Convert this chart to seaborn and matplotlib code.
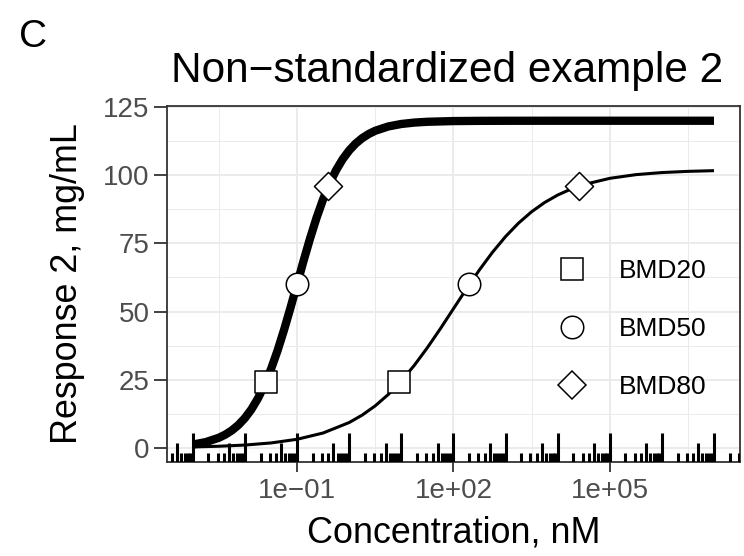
import numpy as np
import pandas as pd
import matplotlib
matplotlib.use("Agg")
import matplotlib.pyplot as plt
from matplotlib.lines import Line2D
from matplotlib.ticker import LogLocator, FixedLocator, NullFormatter
import seaborn as sns

sns.set_theme(style="white")
plt.rcParams['font.family'] = ['Liberation Sans', 'DejaVu Sans']

# ---- data (log10 concentration in nM, response in mg/mL) ----
thick_log_conc = [-3, -2.75, -2.5, -2.375, -2.25, -2.125, -2, -1.875, -1.75, -1.625,
                  -1.5, -1.375, -1.25, -1.125, -1, -0.875, -0.75, -0.625, -0.5, -0.375,
                  -0.25, -0.125, 0, 0.125, 0.25, 0.375, 0.5, 0.75, 1, 1.25, 1.5, 2,
                  2.5, 3, 4, 5, 6, 7]
thick_resp = [1.19, 2.10, 3.68, 4.86, 6.39, 8.37, 10.91, 14.12, 18.12, 23.00,
              28.83, 35.60, 43.20, 51.41, 60.00, 68.58, 76.81, 84.41, 91.17, 97.00,
              101.88, 105.88, 109.09, 111.63, 113.61, 115.14, 116.32, 117.90, 118.81, 119.33, 119.62, 119.88,
              119.96, 119.99, 120.0, 120.0, 120.0, 120.0]

thin_log_conc = [-3, -2.5, -2, -1.5, -1, -0.5, 0, 0.25, 0.5, 0.75, 1, 1.25, 1.5, 1.75,
                 2, 2.25, 2.5, 2.75, 3, 3.25, 3.5, 3.75, 4, 4.25, 4.5, 5, 5.5, 6, 6.5, 7]
thin_resp = [0.32, 0.57, 1.01, 1.78, 3.12, 5.43, 9.27, 12.00, 15.40, 19.55, 24.52, 30.26, 36.72, 43.70,
             51.00, 58.29, 65.29, 71.74, 77.49, 82.45, 86.60, 90.00, 92.73, 94.88, 96.57, 98.87, 100.22,
             100.99, 101.43, 101.68]

bmd_labels = ["BMD20", "BMD50", "BMD80"]
bmd_resp = [24, 60, 96]
thick_bmd_log_conc = [-1.60, -1.00, -0.40]
thin_bmd_log_conc = [0.96, 2.30, 4.41]

x_break_log = [-1, 2, 5]
x_break_labels = ["1e\u221201", "1e+02", "1e+05"]
x_minor_log = [-2.5, 0.5, 3.5, 6.5]
y_breaks = [0, 25, 50, 75, 100, 125]
y_minor = [12.5, 37.5, 62.5, 87.5, 112.5]

title = "Non\u2212standardized example 2"
panel_tag = "C"
x_title = "Concentration, nM"
y_title = "Response 2, mg/mL"

# ---- figure ----
fig = plt.figure(figsize=(7.44, 5.56), dpi=100)
ax = fig.add_axes([0.2241, 0.1696, 0.7706, 0.6397])

df_thick = pd.DataFrame({"conc": 10 ** np.array(thick_log_conc), "resp": thick_resp})
df_thin = pd.DataFrame({"conc": 10 ** np.array(thin_log_conc), "resp": thin_resp})

sns.lineplot(data=df_thick, x="conc", y="resp", ax=ax, color="black", linewidth=6.0,
             sort=False, legend=False, solid_capstyle="butt", zorder=3)
sns.lineplot(data=df_thin, x="conc", y="resp", ax=ax, color="black", linewidth=2.2,
             sort=False, legend=False, solid_capstyle="butt", zorder=3)

df_pts = pd.DataFrame({
    "conc": 10 ** np.array(thick_bmd_log_conc + thin_bmd_log_conc),
    "resp": bmd_resp + bmd_resp,
    "level": bmd_labels + bmd_labels,
})
marker_map = {"BMD20": "s", "BMD50": "o", "BMD80": "D"}
size_map = {"BMD20": 15.2, "BMD50": 16.2, "BMD80": 14.3}
for lev in bmd_labels:
    sub = df_pts[df_pts["level"] == lev]
    sns.scatterplot(data=sub, x="conc", y="resp", ax=ax, marker=marker_map[lev],
                    s=size_map[lev] ** 2, facecolor="white", edgecolor="black",
                    linewidth=1.1, legend=False, zorder=5)

ax.set_xscale("log")
xmin, xmax = 10 ** -3.5, 10 ** 7.5
ax.set_xlim(xmin, xmax)
ax.set_ylim(-5.1, 125.4)

# log ticks (annotation_logticks style) along the bottom
def ticks_for(subs):
    v = LogLocator(base=10, subs=subs, numticks=200).tick_values(xmin, xmax)
    return v[(v >= xmin) & (v <= xmax)]

for subs, h in [((1.0,), 0.0800), ((5.0,), 0.0520), ((2.0, 3.0, 4.0, 6.0, 7.0, 8.0, 9.0), 0.0255)]:
    ax.vlines(ticks_for(subs), 0, h, transform=ax.get_xaxis_transform(),
              colors="black", linewidth=2.2, zorder=4, clip_on=True)
ax.set_xlim(xmin, xmax)

ax.xaxis.set_major_locator(FixedLocator([10.0 ** v for v in x_break_log]))
ax.set_xticklabels(x_break_labels)
ax.xaxis.set_minor_locator(FixedLocator([10.0 ** v for v in x_minor_log]))
ax.xaxis.set_minor_formatter(NullFormatter())
ax.set_yticks(y_breaks)
ax.yaxis.set_minor_locator(FixedLocator(y_minor))

ax.grid(which="major", color="#EBEBEB", linewidth=1.4, zorder=0)
ax.grid(which="minor", color="#EBEBEB", linewidth=0.7, zorder=0)
ax.set_axisbelow(True)

for sp in ax.spines.values():
    sp.set_visible(True)
    sp.set_color("#333333")
    sp.set_linewidth(1.3)

ax.tick_params(which="major", axis="x", length=7.2, width=1.3, color="#333333",
               labelsize=20, labelcolor="#4D4D4D", pad=4.5, direction="out", bottom=True)
ax.tick_params(which="major", axis="y", length=9.5, width=1.3, color="#333333",
               labelsize=20, labelcolor="#4D4D4D", pad=3.0, direction="out", left=True)
ax.tick_params(which="minor", length=0)

ax.set_xlabel(x_title, fontsize=25.8, color="black", labelpad=8)
ax.set_ylabel(y_title, fontsize=25.8, color="black", labelpad=13)

fig.text(0.601, 0.853, title, fontsize=30.5, ha="center", va="baseline", color="black")
fig.text(0.025, 0.915, panel_tag, fontsize=28, ha="left", va="baseline", color="black")

handles = [Line2D([], [], linestyle="none", marker=marker_map[l], markersize=size_map[l],
                  markerfacecolor="white", markeredgecolor="black", markeredgewidth=1.1)
           for l in bmd_labels]
ax.legend(handles, bmd_labels, loc="center left", bbox_to_anchor=(0.684, 0.3725),
          frameon=False, fontsize=19, handlelength=1.0, handletextpad=1.26,
          labelspacing=1.28, borderpad=0, borderaxespad=0, labelcolor="black")

fig.savefig("out.png", dpi=100)
